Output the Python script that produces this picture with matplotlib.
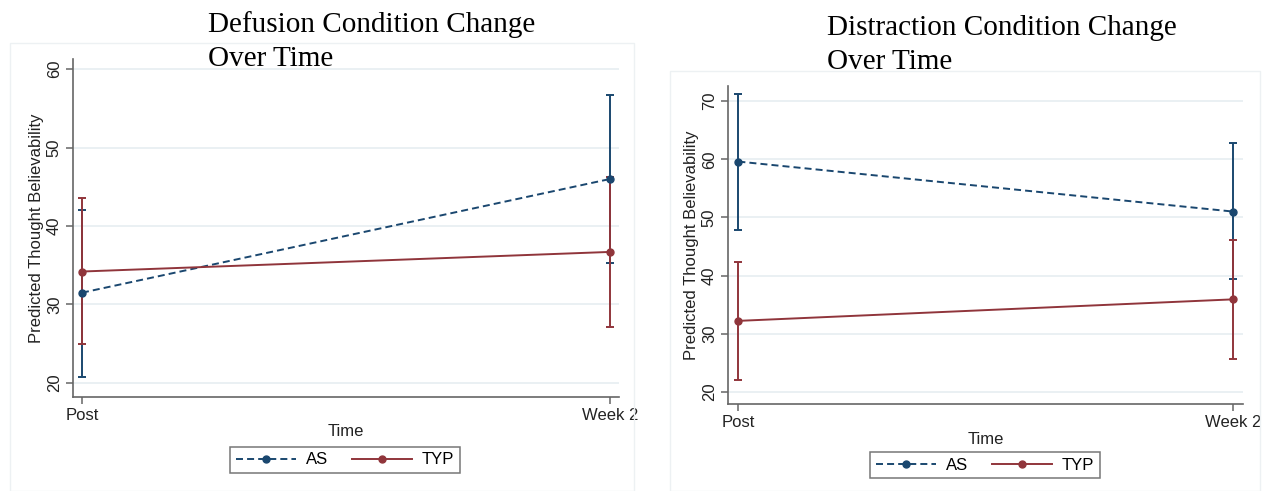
import matplotlib
matplotlib.use("Agg")
import matplotlib.pyplot as plt
from matplotlib.lines import Line2D
from matplotlib.patches import Rectangle

plt.rcParams['font.family'] = ['Liberation Sans', 'DejaVu Sans']

time_labels = ['Post', 'Week 2']
groups = ['AS', 'TYP']

# predicted means and 95% CI bounds, Defusion condition
defusion_as = [31.5, 46.0]
defusion_as_lo = [20.8, 35.3]
defusion_as_hi = [42.1, 56.7]
defusion_typ = [34.2, 36.7]
defusion_typ_lo = [24.9, 27.1]
defusion_typ_hi = [43.6, 46.3]

# Distraction condition
distraction_as = [59.6, 51.0]
distraction_as_lo = [47.9, 39.4]
distraction_as_hi = [71.2, 62.8]
distraction_typ = [32.2, 35.9]
distraction_typ_lo = [22.1, 25.7]
distraction_typ_hi = [42.3, 46.1]

NAVY = '#1a476f'
MAROON = '#90353b'
AXCOL = '#666666'
GRID = '#e6eef1'
LW = 1.4
DASH = (3.6, 2.1)
FS = 12


def draw_panel(ax, as_vals, as_lo, as_hi, typ_vals, typ_lo, typ_hi, yticks, ylim, xlim):
    x = list(range(len(time_labels)))
    for vals, lo, hi, col in [(as_vals, as_lo, as_hi, NAVY), (typ_vals, typ_lo, typ_hi, MAROON)]:
        err = [[v - l for v, l in zip(vals, lo)], [h - v for v, h in zip(vals, hi)]]
        ax.errorbar(x, vals, yerr=err, fmt='none', ecolor=col, elinewidth=LW,
                    capsize=3, capthick=LW, zorder=3)
    ax.plot(x, as_vals, color=NAVY, lw=LW, dashes=DASH, marker='o', ms=5, zorder=4)
    ax.plot(x, typ_vals, color=MAROON, lw=LW, marker='o', ms=5, zorder=4)

    ax.set_xlim(*xlim)
    ax.set_ylim(*ylim)
    ax.set_xticks(x)
    ax.set_xticklabels(time_labels, fontsize=FS)
    ax.set_yticks(yticks)
    ax.set_yticklabels([str(t) for t in yticks], fontsize=FS, rotation=90, va='center')
    ax.yaxis.grid(True, color=GRID, lw=1.2)
    ax.set_axisbelow(True)
    for s in ['top', 'right']:
        ax.spines[s].set_visible(False)
    for s in ['left', 'bottom']:
        ax.spines[s].set_color(AXCOL)
        ax.spines[s].set_linewidth(1.2)
    ax.tick_params(colors=AXCOL, length=5, width=1.1, labelcolor='#222222', pad=3)
    ax.set_xlabel('Time', fontsize=FS, color='#222222', labelpad=1)
    ax.set_ylabel('Predicted Thought Believability', fontsize=FS, color='#222222', labelpad=2)


fig = plt.figure(figsize=(12.62, 4.91), dpi=100)
W, H = 1262, 491


def px_axes(x0, y0, x1, y1):
    return fig.add_axes([x0 / W, 1 - y1 / H, (x1 - x0) / W, (y1 - y0) / H])


# faint outer frames of the two graphs
fig.patches.append(Rectangle((10 / W, 0), 624 / W, 1 - 43 / H, transform=fig.transFigure,
                             fill=False, ec='#edf1f3', lw=1.0))
fig.patches.append(Rectangle((670 / W, 0), 590 / W, 1 - 71 / H, transform=fig.transFigure,
                             fill=False, ec='#edf1f3', lw=1.0))

ax1 = px_axes(73, 59, 619, 397)
draw_panel(ax1, defusion_as, defusion_as_lo, defusion_as_hi,
           defusion_typ, defusion_typ_lo, defusion_typ_hi,
           [20, 30, 40, 50, 60], (18.2, 61.3), (-0.017, 1.017))

ax2 = px_axes(728, 86, 1243, 404)
draw_panel(ax2, distraction_as, distraction_as_lo, distraction_as_hi,
           distraction_typ, distraction_typ_lo, distraction_typ_hi,
           [20, 30, 40, 50, 60, 70], (17.9, 72.6), (-0.021, 1.02))

title_kw = dict(family=['Liberation Serif', 'DejaVu Serif'], fontsize=21, ha='left',
                va='baseline', color='#000000')
fig.text(208 / W, 1 - 32 / H, 'Defusion Condition Change', **title_kw)
fig.text(208 / W, 1 - 66 / H, 'Over Time', **title_kw)
fig.text(827 / W, 1 - 35 / H, 'Distraction Condition Change', **title_kw)
fig.text(827 / W, 1 - 69 / H, 'Over Time', **title_kw)

handles = [
    Line2D([], [], color=NAVY, lw=LW, dashes=DASH, marker='o', ms=5),
    Line2D([], [], color=MAROON, lw=LW, marker='o', ms=5),
]
leg_kw = dict(loc='center', ncol=2, fontsize=FS, frameon=True, fancybox=False,
              edgecolor='#555555', handlelength=3.6, handletextpad=0.6,
              columnspacing=1.4, borderpad=0.35, numpoints=1)
for cx, cy in [(345, 460), (985, 465)]:
    leg = fig.legend(handles, groups, bbox_to_anchor=(cx / W, 1 - cy / H), **leg_kw)
    leg.get_frame().set_linewidth(1.1)

fig.savefig('out.png', dpi=100)
